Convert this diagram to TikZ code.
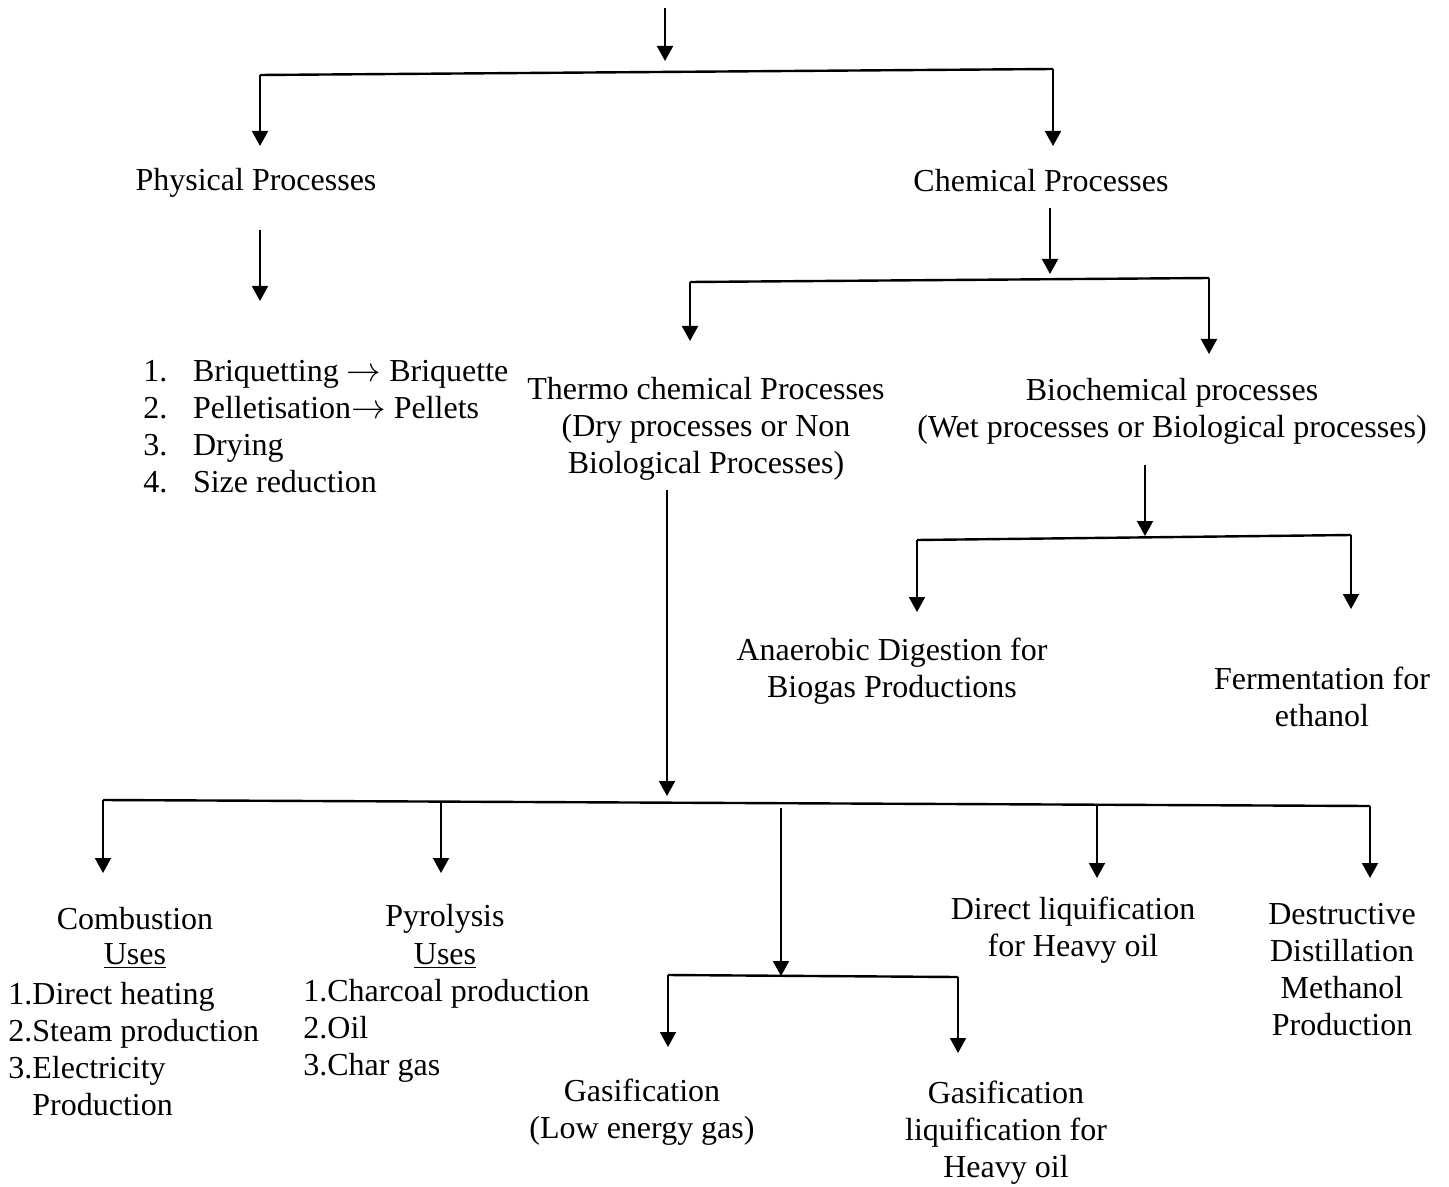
\documentclass[tikz,border=0pt]{standalone}
\usepackage{fontspec}
\setmainfont{Liberation Serif}
\usetikzlibrary{arrows.meta}
\newcommand{\bodyfont}{\fontsize{16}{18.5}\selectfont}
\tikzset{
  arr/.style={-{Triangle[length=7.5pt,width=8pt]}, line width=1pt},
  bar/.style={line width=1.2pt},
  lbl/.style={align=center, inner sep=0pt},
  lst/.style={align=left, inner sep=0pt, anchor=west}
}

\begin{document}
\begin{tikzpicture}[x=0.5pt,y=-0.5pt,font=\bodyfont]
\useasboundingbox (0,0) rectangle (1449,1187);

% first level
\node[lbl] (phys) at (256,183) {Physical Processes};
\node[lbl] (chem) at (1041,181) {Chemical Processes};

\begin{scope}
\clip (0,340) rectangle (508,500); % list runs off on the right
\node[lst] (physlist) at (143,427) {1.\hspace{0.8em}Briquetting $\rightarrow$ Briquettes\\
2.\hspace{0.8em}Pelletisation$\rightarrow$ Pellets\\
3.\hspace{0.8em}Drying\\
4.\hspace{0.8em}Size reduction};
\end{scope}

% second level
\node[lbl] (thermo) at (706,429) {Thermo chemical Processes\\(Dry processes or Non\\Biological Processes)};
\node[lbl] (bio) at (1172,411) {Biochemical processes\\(Wet processes or Biological processes)};
\node[lbl] (anaer) at (892,671) {Anaerobic Digestion for\\Biogas Productions};
\node[lbl] (ferm) at (1322,697) {Fermentation for\\ethanol};

% thermo chemical branches
\node[lbl] (comb) at (135,919) {Combustion};
\node[lbl] (combuses) at (135,956) {\underline{Uses}};
\node[lst] (comblist) at (8,1049) {1.Direct heating\\2.Steam production\\3.Electricity\\\phantom{3.}Production};
\node[lbl] (pyro) at (445,919) {Pyrolysis};
\node[lbl] (pyrouses) at (445,956) {\underline{Uses}};
\node[lst] (pyrolist) at (303,1031) {1.Charcoal production\\2.Oil\\3.Char gas};
\node[lbl] (gasif) at (642,1112) {Gasification\\(Low energy gas)};
\node[lbl] (gasliq) at (1006,1133) {Gasification\\liquification for\\Heavy oil};
\node[lbl] (dirliq) at (1073,930) {Direct liquification\\for Heavy oil};
\node[lbl] (destr) at (1342,970) {Destructive\\Distillation\\Methanol\\Production};

% top split
\coordinate (top) at (665,8);
\coordinate (toptip) at (665,61);
\coordinate (b1l) at (260,75);
\coordinate (b1r) at (1053,69);
\coordinate (physin) at (260,146);
\coordinate (chemin) at (1053,146);
\draw[arr] (top) -- (toptip);
\draw[bar] (b1l) -- (b1r);
\draw[arr] (b1l) -- (physin);
\draw[arr] (b1r) -- (chemin);

% physical
\coordinate (physout) at (260,230);
\coordinate (listin) at (260,301);
\draw[arr] (physout) -- (listin);

% chemical split
\coordinate (chemout) at (1050,208);
\coordinate (b2c) at (1050,274);
\coordinate (b2l) at (690,282);
\coordinate (b2r) at (1209,278);
\coordinate (thermoin) at (690,341);
\coordinate (bioin) at (1209,354);
\draw[arr] (chemout) -- (b2c);
\draw[bar] (b2l) -- (b2r);
\draw[arr] (b2l) -- (thermoin);
\draw[arr] (b2r) -- (bioin);

% biochemical split
\coordinate (bioout) at (1145,465);
\coordinate (b3c) at (1145,536);
\coordinate (b3l) at (917,540);
\coordinate (b3r) at (1351,535);
\coordinate (anaerin) at (917,612);
\coordinate (fermin) at (1351,609);
\draw[arr] (bioout) -- (b3c);
\draw[bar] (b3l) -- (b3r);
\draw[arr] (b3l) -- (anaerin);
\draw[arr] (b3r) -- (fermin);

% thermo chemical split
\coordinate (thermoout) at (667,490);
\coordinate (b4c) at (667,796);
\coordinate (b4l) at (103,800);
\coordinate (b4r) at (1370,806);
\coordinate (combin) at (103,873);
\coordinate (pyrotop) at (441,801);
\coordinate (pyroin) at (441,873);
\coordinate (gastop) at (781,808);
\coordinate (b5c) at (781,976);
\coordinate (dirtop) at (1097,804);
\coordinate (dirin) at (1097,878);
\coordinate (destrin) at (1370,878);
\draw[arr] (thermoout) -- (b4c);
\draw[bar] (b4l) -- (b4r);
\draw[arr] (b4l) -- (combin);
\draw[arr] (pyrotop) -- (pyroin);
\draw[arr] (gastop) -- (b5c);
\draw[arr] (dirtop) -- (dirin);
\draw[arr] (b4r) -- (destrin);

% gasification split
\coordinate (b5l) at (668,975);
\coordinate (b5r) at (958,977);
\coordinate (gasifin) at (668,1047);
\coordinate (gasliqin) at (958,1053);
\draw[bar] (b5l) -- (b5r);
\draw[arr] (b5l) -- (gasifin);
\draw[arr] (b5r) -- (gasliqin);
\end{tikzpicture}
\end{document}
